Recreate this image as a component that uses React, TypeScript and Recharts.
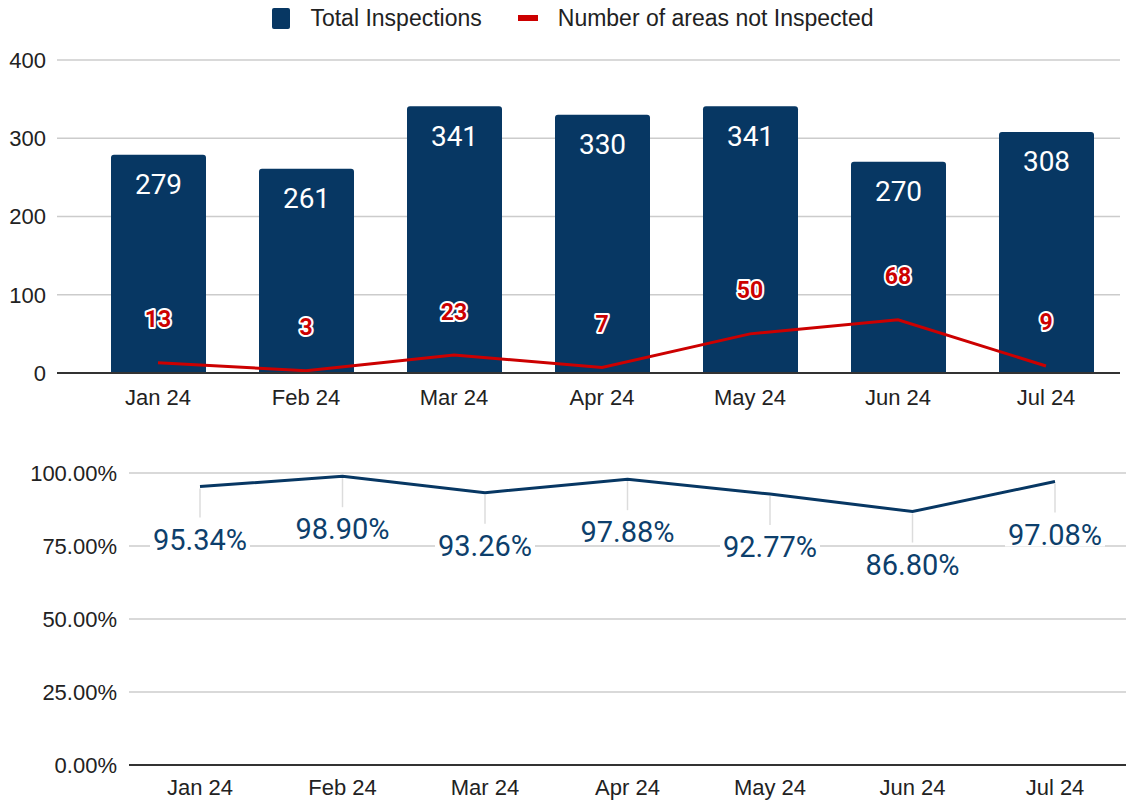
import {
  Bar,
  CartesianGrid,
  ComposedChart,
  LabelList,
  Legend,
  Line,
  LineChart,
  XAxis,
  YAxis,
} from "recharts";

const MONTHS = ["Jan 24", "Feb 24", "Mar 24", "Apr 24", "May 24", "Jun 24", "Jul 24"];
const TOTAL_INSPECTIONS = [279, 261, 341, 330, 341, 270, 308];
const NOT_INSPECTED = [13, 3, 23, 7, 50, 68, 9];
const PCT_INSPECTED = [95.34, 98.9, 93.26, 97.88, 92.77, 86.8, 97.08];

const COUNT_TICKS = [0, 100, 200, 300, 400];
const PCT_TICKS = [0, 25, 50, 75, 100];

const NAVY = "#073763";
const RED = "#cc0000";
const TICK_FONT = "'Liberation Sans', Arial, sans-serif";
const LABEL_FONT = "Roboto, 'Noto Sans', sans-serif";

const topData = MONTHS.map((month, i) => ({
  month,
  total: TOTAL_INSPECTIONS[i],
  missed: NOT_INSPECTED[i],
}));

const bottomData = MONTHS.map((month, i) => ({ month, pct: PCT_INSPECTED[i] }));

const tickStyle = { fontFamily: TICK_FONT, fontSize: 22, fill: "#222" };

function TopLegend() {
  return (
    <div
      style={{
        height: 36,
        display: "flex",
        alignItems: "center",
        justifyContent: "center",
        fontFamily: TICK_FONT,
        fontSize: 23,
        color: "#222",
        paddingLeft: 8,
      }}
    >
      <span style={{ width: 18, height: 21, background: NAVY, borderRadius: 2, marginRight: 20 }} />
      <span style={{ marginRight: 36 }}>Total Inspections</span>
      <span style={{ width: 20, height: 6, background: RED, marginRight: 20 }} />
      <span>Number of areas not Inspected</span>
    </div>
  );
}

function BarValueLabel(props: any) {
  const { x, y, width, value } = props;
  return (
    <text
      x={x + width / 2}
      y={y + 30}
      textAnchor="middle"
      dominantBaseline="central"
      fill="#fff"
      fontFamily={LABEL_FONT}
      fontSize={28}
    >
      {value}
    </text>
  );
}

function MissedLabel(props: any) {
  const { x, y, value } = props;
  return (
    <text
      x={x}
      y={y - 43}
      textAnchor="middle"
      dominantBaseline="central"
      fill={RED}
      stroke="#fff"
      strokeWidth={4}
      strokeLinejoin="round"
      paintOrder="stroke"
      fontFamily={LABEL_FONT}
      fontWeight="bold"
      fontSize={23}
    >
      {value}
    </text>
  );
}

function PctLabel(props: any) {
  const { x, y, value } = props;
  return (
    <g>
      <line x1={x} y1={y + 2} x2={x} y2={y + 31} stroke="#dcdcdc" strokeWidth={1.5} />
      <rect x={x - 50} y={y + 40} width={100} height={25} fill="#fff" />
      <text
        x={x}
        y={y + 53}
        textAnchor="middle"
        dominantBaseline="central"
        fill="#0d3f6c"
        fontFamily={LABEL_FONT}
        fontSize={29}
      >
        {`${value.toFixed(2)}%`}
      </text>
    </g>
  );
}

export default function App() {
  return (
    <div style={{ position: "absolute", left: 0, top: 0, width: 1138, height: 801, background: "#fff" }}>
      <div style={{ position: "absolute", left: 0, top: 0 }}>
        <ComposedChart width={1138} height={420} data={topData} margin={{ top: 24, right: 18, left: 0, bottom: 0 }}>
          <CartesianGrid vertical={false} stroke="#cccccc" strokeWidth={1.5} />
          <XAxis
            dataKey="month"
            padding={{ left: 27, right: 0 }}
            height={47}
            tickLine={false}
            tickSize={0}
            tickMargin={16}
            axisLine={{ stroke: "#333", strokeWidth: 2 }}
            tick={tickStyle}
          />
          <YAxis
            width={57}
            domain={[0, 400]}
            ticks={COUNT_TICKS}
            axisLine={false}
            tickLine={false}
            tickSize={0}
            tickMargin={11}
            tick={tickStyle}
          />
          <Legend verticalAlign="top" wrapperStyle={{ top: 0, left: 0, width: 1138 }} content={() => <TopLegend />} />
          <Bar dataKey="total" name="Total Inspections" fill={NAVY} barSize={95} radius={[3, 3, 0, 0]} isAnimationActive={false}>
            <LabelList dataKey="total" content={BarValueLabel} />
          </Bar>
          <Line
            dataKey="missed"
            name="Number of areas not Inspected"
            stroke={RED}
            strokeWidth={3}
            dot={false}
            activeDot={false}
            type="linear"
            isAnimationActive={false}
          >
            <LabelList dataKey="missed" content={MissedLabel} />
          </Line>
        </ComposedChart>
      </div>
      <div style={{ position: "absolute", left: 0, top: 420 }}>
        <LineChart width={1138} height={381} data={bottomData} margin={{ top: 53, right: 12, left: 0, bottom: 0 }}>
          <CartesianGrid vertical={false} stroke="#cccccc" strokeWidth={1.5} />
          <XAxis
            dataKey="month"
            height={36}
            padding={{ left: 71, right: 71 }}
            tickLine={false}
            tickSize={0}
            tickMargin={14}
            axisLine={{ stroke: "#333", strokeWidth: 2 }}
            tick={tickStyle}
          />
          <YAxis
            width={129}
            domain={[0, 100]}
            ticks={PCT_TICKS}
            tickFormatter={(v: number) => `${v.toFixed(2)}%`}
            axisLine={false}
            tickLine={false}
            tickSize={0}
            tickMargin={12}
            tick={tickStyle}
          />
          <Line
            dataKey="pct"
            stroke={NAVY}
            strokeWidth={3}
            dot={false}
            activeDot={false}
            type="linear"
            isAnimationActive={false}
          >
            <LabelList dataKey="pct" content={PctLabel} />
          </Line>
        </LineChart>
      </div>
    </div>
  );
}
